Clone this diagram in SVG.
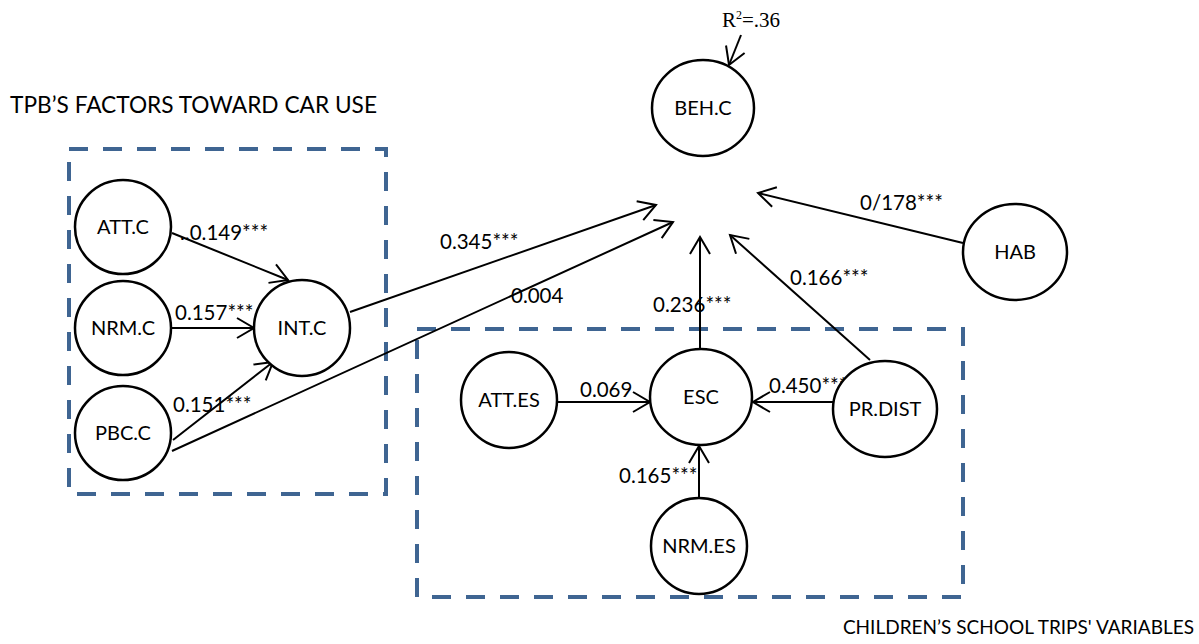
<svg xmlns="http://www.w3.org/2000/svg" width="1199" height="644" viewBox="0 0 1199 644">
<style>
.box{fill:none;stroke:#3F6592;stroke-width:4;stroke-dasharray:19 15}
.node ellipse{fill:#fff;stroke:#000;stroke-width:2.5}
.nl{font-family:Lato,"Liberation Sans",sans-serif;font-size:20px;fill:#000;text-anchor:middle}
.el{font-family:Lato,"Liberation Sans",sans-serif;font-size:20.5px;fill:#000}
.title{font-family:Lato,"Liberation Sans",sans-serif;font-size:22.5px;fill:#000}
.title2{font-family:Lato,"Liberation Sans",sans-serif;font-size:19px;fill:#000;text-anchor:end}
.edge{stroke:#000;stroke-width:2;fill:none;marker-end:url(#arr)}
</style>
<defs>
<marker id="arr" markerUnits="userSpaceOnUse" markerWidth="24" markerHeight="24" refX="19" refY="12" orient="auto" viewBox="0 0 24 24">
<path d="M2,2 L19,12 L2,22" fill="none" stroke="#000" stroke-width="2"/>
</marker>
</defs>
<rect width="1199" height="644" fill="#fff"/>
<g id="groups">
<rect class="box" x="69" y="149" width="317" height="345"/>
<rect class="box" x="417" y="329" width="546" height="268"/>
<text class="title" x="10" y="113" textLength="367" lengthAdjust="spacingAndGlyphs">TPB’S FACTORS TOWARD CAR USE</text>
<text class="title2" x="1194" y="634">CHILDREN’S SCHOOL TRIPS' VARIABLES</text>
</g>
<g id="connectors">
<line class="edge" x1="741" y1="35" x2="729" y2="65"/>
<line class="edge" x1="172" y1="233" x2="288" y2="280"/>
<line class="edge" x1="172" y1="328" x2="254" y2="328"/>
<line class="edge" x1="173" y1="440" x2="273" y2="362"/>
<line class="edge" x1="172" y1="451" x2="673" y2="222"/>
<line class="edge" x1="350" y1="312" x2="656" y2="205"/>
<line class="edge" x1="700" y1="349" x2="700" y2="237"/>
<line class="edge" x1="870" y1="360" x2="730" y2="235"/>
<line class="edge" x1="963" y1="243" x2="758" y2="193"/>
<line class="edge" x1="557" y1="402" x2="650" y2="402"/>
<line class="edge" x1="833" y1="402" x2="753" y2="402"/>
<line class="edge" x1="699" y1="498" x2="699" y2="446"/>
</g>
<g id="labels">
<text x="722" y="27" font-family="'Liberation Serif',serif" font-size="21">R<tspan dy="-8" font-size="12">2</tspan><tspan dy="8">=.36</tspan></text>
<text class="el" x="180" y="240">..0.149***</text>
<text class="el" x="175" y="320">0.157***</text>
<text class="el" x="173" y="412">0.151***</text>
<text class="el" x="440" y="249">0.345***</text>
<text class="el" x="511" y="303">0.004</text>
<text class="el" x="653" y="312">0.236***</text>
<text class="el" x="790" y="285">0.166***</text>
<text class="el" x="860" y="210">0/178***</text>
<text class="el" x="580" y="397">0.069</text>
<text class="el" x="619" y="483">0.165***</text>
<text class="el" x="769" y="393">0.450***</text>
</g>
<g id="BEH.C" class="node"><ellipse cx="703" cy="108" rx="51" ry="48"/><text class="nl" x="703" y="115">BEH.C</text></g>
<g id="ATT.C" class="node"><ellipse cx="123" cy="227" rx="48" ry="47"/><text class="nl" x="123" y="234">ATT.C</text></g>
<g id="NRM.C" class="node"><ellipse cx="123" cy="328" rx="48" ry="47"/><text class="nl" x="123" y="335">NRM.C</text></g>
<g id="PBC.C" class="node"><ellipse cx="123" cy="433" rx="48" ry="47"/><text class="nl" x="123" y="440">PBC.C</text></g>
<g id="INT.C" class="node"><ellipse cx="302" cy="328" rx="48" ry="48"/><text class="nl" x="302" y="335">INT.C</text></g>
<g id="HAB" class="node"><ellipse cx="1015" cy="252" rx="52" ry="48"/><text class="nl" x="1015" y="259">HAB</text></g>
<g id="ATT.ES" class="node"><ellipse cx="509" cy="400" rx="48" ry="48"/><text class="nl" x="509" y="407">ATT.ES</text></g>
<g id="ESC" class="node"><ellipse cx="701" cy="397" rx="51" ry="48"/><text class="nl" x="701" y="404">ESC</text></g>
<g id="PR.DIST" class="node"><ellipse cx="885" cy="409" rx="52" ry="48"/><text class="nl" x="885" y="416">PR.DIST</text></g>
<g id="NRM.ES" class="node"><ellipse cx="699" cy="546" rx="48" ry="48"/><text class="nl" x="699" y="553">NRM.ES</text></g>
</svg>
